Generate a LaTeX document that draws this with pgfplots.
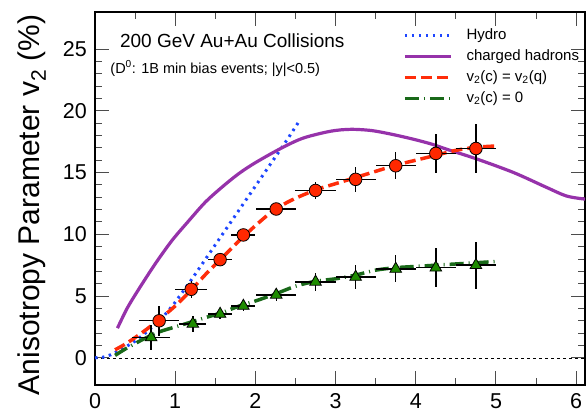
\documentclass[border=0pt]{standalone}
\usepackage{pgfplots}
\pgfplotsset{compat=1.18}
\usepackage{pgfplotstable}
\usepackage{fontspec}
\setmainfont{Liberation Sans}
\definecolor{hydroblue}{RGB}{30,70,255}
\definecolor{hadpurple}{RGB}{150,50,170}
\definecolor{qred}{RGB}{255,45,10}
\definecolor{zgreen}{RGB}{25,105,25}
\definecolor{trigreen}{RGB}{30,140,0}
\definecolor{ptred}{RGB}{255,40,0}

\pgfplotstableread{
x y ex ey
0.80 3.00 0.25 1.20
1.20 5.55 0.20 0.70
1.56 7.95 0.15 0.50
1.85 9.95 0.15 0.45
2.26 12.05 0.25 0.50
2.75 13.55 0.25 0.70
3.25 14.45 0.25 1.00
3.75 15.55 0.25 1.10
4.25 16.55 0.25 1.60
4.75 16.95 0.25 1.95
}\redpts

\pgfplotstableread{
x y ex ey
0.70 1.65 0.24 1.00
1.22 2.75 0.17 0.65
1.56 3.55 0.15 0.40
1.85 4.20 0.15 0.40
2.26 5.10 0.25 0.50
2.75 6.15 0.25 0.75
3.25 6.55 0.25 1.00
3.75 7.20 0.25 1.10
4.25 7.30 0.25 1.60
4.75 7.50 0.25 1.90
}\greenpts

\begin{document}
\begin{tikzpicture}
\begin{axis}[
  at={(0,0)}, anchor=south west,
  scale only axis, width=490pt, height=373pt,
  xmin=0, xmax=6.11, ymin=-2.2, ymax=28,
  xtick={0,1,2,3,4,5,6}, minor x tick num=1,
  ytick={0,5,10,15,20,25}, minor y tick num=4,
  tick align=inside, tick pos=both, ticklabel pos=left,
  major tick length=14pt, minor tick length=7pt,
  every tick/.append style={black!70, line width=1pt},
  axis line style={line width=1.6pt},
  /pgf/number format/assume math mode=true,
  tick label style={font=\fontsize{21.5}{25}\selectfont},
  xticklabel style={inner sep=0pt, yshift=-8.5pt},
  yticklabel style={inner sep=0pt, xshift=-8pt},
  ylabel={Anisotropy Parameter v\textsubscript{2} (\%)},
  ylabel style={font=\fontsize{30}{34}\selectfont, at={(axis description cs:-0.1286,0.4826)}, anchor=center, rotate=0},
  legend style={draw=none, fill=none, inner sep=0pt, outer sep=0pt,
    at={(rel axis cs:0.6286,1)}, anchor=north west, yshift=-16.2pt,
    font=\fontsize{15}{18}\selectfont, row sep=6pt,
    nodes={inner sep=0pt, text height=11pt, text depth=4pt},
    /tikz/every odd column/.append style={column sep=14pt}},
  legend cell align=left,
  legend image code/.code={\draw[#1] (0pt,0pt) -- (46pt,0pt);},
]
\addplot[black, line width=0.6pt, dash pattern=on 3pt off 3pt, forget plot] coordinates {(0,0) (6.11,0)};

\addplot[hydroblue, line width=3pt, dash pattern=on 2.5pt off 4.5pt] coordinates {
(0,0) (0.1,0.05) (0.2,0.25) (0.3,0.6) (0.4,0.95) (0.5,1.35) (0.6,1.85) (0.7,2.4)
(0.8,3.0) (0.9,3.7) (1.0,4.5) (1.1,5.4) (1.2,6.3) (1.4,8.2) (1.6,10.1) (1.8,12.0)
(2.0,13.9) (2.2,15.8) (2.4,17.7) (2.55,19.2)};
\addlegendentry{Hydro}

\addplot[hadpurple, line width=3.2pt, smooth] coordinates {
(0.28,2.4) (0.4,4.0) (0.54,5.5) (0.75,7.6) (0.96,9.5) (1.17,11.1) (1.375,12.6)
(1.58,13.8) (1.79,14.9) (2.0,15.8) (2.33,17.0) (2.6,17.8) (2.94,18.35) (3.19,18.5)
(3.45,18.4) (3.7,18.1) (3.97,17.7) (4.2,17.3) (4.38,16.9) (4.76,16.1) (5.22,15.0)
(5.63,13.8) (5.88,13.1) (6.11,12.85)};
\addlegendentry{charged hadrons}

\addplot[qred, line width=3.5pt, dash pattern=on 11pt off 5pt, smooth] coordinates {
(0.25,0.65) (0.4,1.2) (0.6,2.1) (0.8,3.1) (1.0,4.2) (1.2,5.5) (1.4,6.9) (1.6,8.2)
(1.8,9.5) (2.0,10.7) (2.2,11.8) (2.4,12.6) (2.6,13.2) (2.8,13.7) (3.0,14.1)
(3.25,14.6) (3.5,15.1) (3.75,15.6) (4.0,16.0) (4.25,16.4) (4.5,16.8) (4.75,17.05) (5.0,17.15)};
\addlegendentry{v\textsubscript{2}(c) = v\textsubscript{2}(q)}

\addplot[zgreen, line width=3.5pt, dash pattern=on 14pt off 5pt on 1pt off 5pt, smooth] coordinates {
(0.25,0.2) (0.4,0.8) (0.6,1.5) (0.8,2.1) (1.0,2.5) (1.2,2.9) (1.4,3.3) (1.6,3.7)
(1.8,4.2) (2.0,4.6) (2.26,5.2) (2.5,5.8) (2.75,6.2) (3.0,6.4) (3.25,6.7) (3.5,7.1)
(3.75,7.3) (4.0,7.4) (4.25,7.5) (4.5,7.6) (4.75,7.7) (5.0,7.8)};
\addlegendentry{v\textsubscript{2}(c) = 0}

\addplot[only marks, mark=triangle*, mark size=6.7pt,
  mark options={fill=trigreen, draw=black, line width=0.8pt},
  error bars/.cd, x dir=both, x explicit, y dir=both, y explicit,
  error mark=none, error bar style={black, line width=1.4pt}]
  table[x=x, y=y, x error=ex, y error=ey] {\greenpts};
\addplot[only marks, mark=*, mark size=6.3pt,
  mark options={fill=ptred, draw=black, line width=0.8pt},
  error bars/.cd, x dir=both, x explicit, y dir=both, y explicit,
  error mark=none, error bar style={black, line width=1.4pt}]
  table[x=x, y=y, x error=ex, y error=ey] {\redpts};

\node[anchor=base west, font=\fontsize{19}{22}\selectfont, inner sep=0pt] at (axis cs:0.31,25.1) {200 GeV Au+Au Collisions};
\node[anchor=base west, font=\fontsize{14.5}{17}\selectfont, inner sep=0pt] at (axis cs:0.19,23.05) {(D\textsuperscript{0}: 1B min bias events; |y|<0.5)};
\end{axis}
\pgfresetboundingbox
\useasboundingbox (-95pt,-33pt) rectangle (491pt,385pt);
\end{tikzpicture}
\end{document}
